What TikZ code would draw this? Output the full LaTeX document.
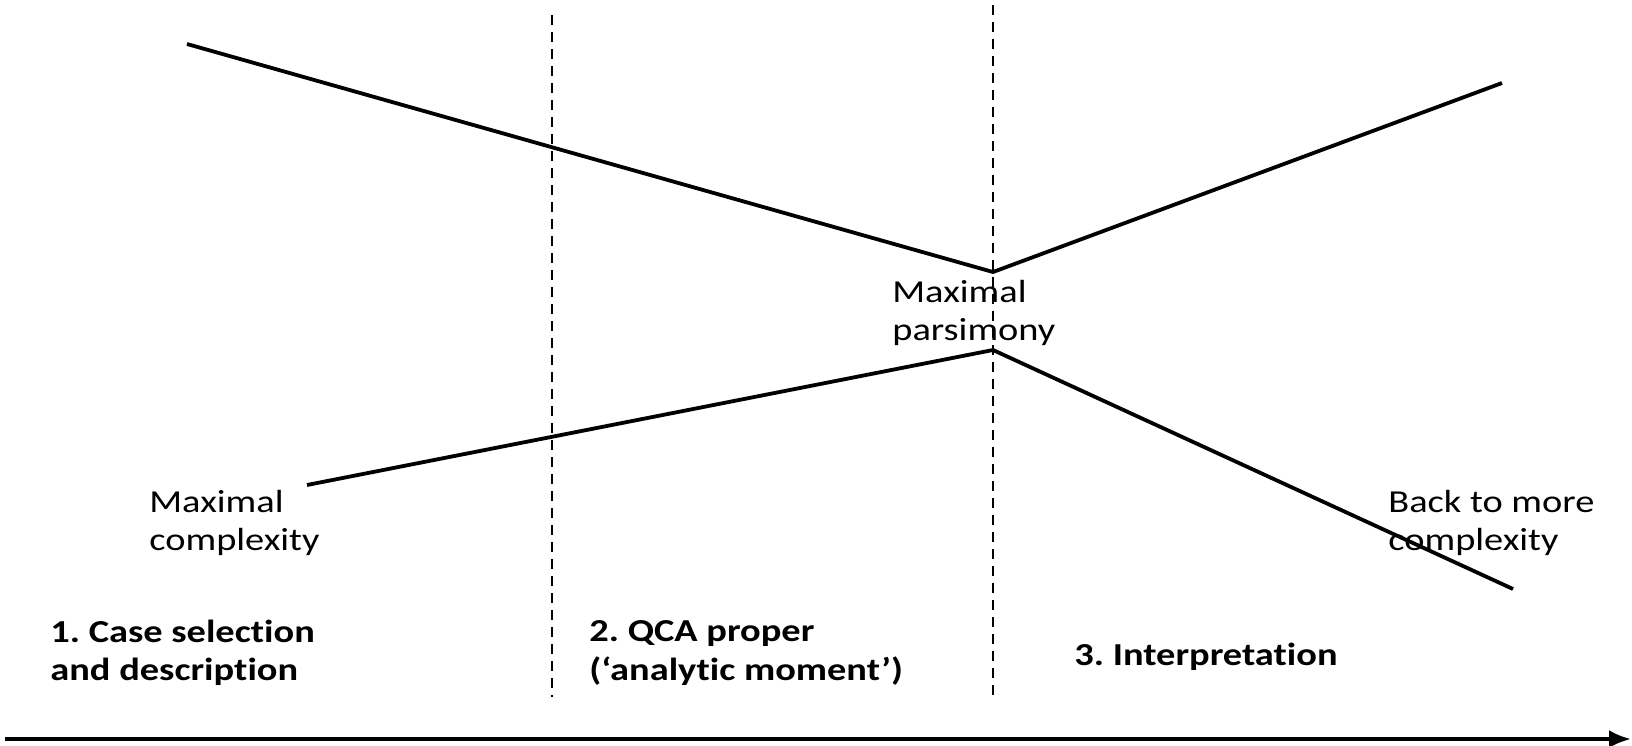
\documentclass[tikz,border=0pt]{standalone}
\usepackage{fontspec}
\usetikzlibrary{arrows.meta}
\setmainfont{Carlito}[FakeStretch=1.2, Ligatures=NoCommon]
\frenchspacing
\begin{document}
\begin{tikzpicture}[x={(0.5pt,0)}, y={(0,-0.5pt)}, font=\fontsize{16}{19.2}\selectfont]
    \tikzstyle{path_style} = [black, line width=1.9pt]
    \tikzstyle{phase_style} = [black, line width=1pt, dash pattern=on 5pt off 3.5pt]
    \tikzstyle{label_style} = [anchor=west, align=left, inner sep=0pt]
    \tikzstyle{phase_label} = [label_style, font=\fontsize{16}{19.2}\selectfont\bfseries]
    \tikzstyle{arrow_style} = [->, black, line width=2pt, >={Latex[length=11pt,width=9pt]}]

    \useasboundingbox (0,0) rectangle (1632,745);

    % phase separators
    \coordinate (s1top) at (552,15);
    \coordinate (s1bot) at (552,697);
    \coordinate (s2top) at (993,5);
    \coordinate (s2bot) at (993,697);
    \draw[phase_style] (s1top) -- (s1bot);
    \draw[phase_style] (s2top) -- (s2bot);

    % upper and lower lines
    \coordinate (u1) at (187,44);
    \coordinate (u2) at (993,272);
    \coordinate (u3) at (1502,83);
    \coordinate (l1) at (307,485);
    \coordinate (l2) at (993,350);
    \coordinate (l3) at (1513,589);
    \draw[path_style] (u1) -- (u2) -- (u3);
    \draw[path_style] (l1) -- (l2) -- (l3);

    % labels
    \node[label_style] (cmax) at (149,523) {Maximal\\complexity};
    \node[label_style] (pmax) at (892,313) {Maximal\\parsimony};
    \node[label_style] (cback) at (1388,523) {Back to more\\complexity};

    \node[phase_label] (ph1) at (50,653) {1. Case selection\\and description};
    \node[phase_label] (ph2) at (589,653) {2. QCA proper\\(`analytic moment')};
    \node[phase_label] (ph3) at (1074,657) {3. Interpretation};

    % time axis
    \coordinate (t0) at (5,739);
    \coordinate (t1) at (1631,739);
    \draw[arrow_style] (t0) -- (t1);
\end{tikzpicture}
\end{document}
